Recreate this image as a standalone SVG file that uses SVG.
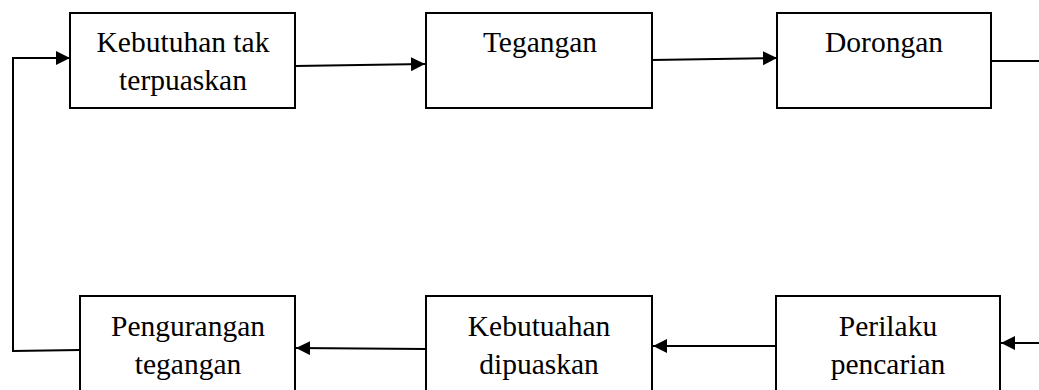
<svg xmlns="http://www.w3.org/2000/svg" width="1039" height="390" viewBox="0 0 1039 390">
  <defs>
    <marker id="arrow" viewBox="0 0 14 14" refX="14" refY="7" markerWidth="14" markerHeight="14" markerUnits="userSpaceOnUse" orient="auto">
      <path d="M0,0 L14,7 L0,14 Z" fill="#000"/>
    </marker>
  </defs>
  <style>
    .box { fill: #fff; stroke: #000; stroke-width: 2; }
    .lbl { font-family: "Liberation Serif", "Times New Roman", serif; font-size: 29.5px; fill: #000; text-anchor: middle; }
    .conn { fill: none; stroke: #000; stroke-width: 2; }
  </style>
  <rect width="1039" height="390" fill="#fff"/>

  <g id="connectors">
    <path class="conn" d="M295,66 L425,64" marker-end="url(#arrow)"/>
    <path class="conn" d="M652,60 L777,58" marker-end="url(#arrow)"/>
    <path class="conn" d="M991,61 L1039,61"/>
    <path class="conn" d="M1039,343 L1001,343" marker-end="url(#arrow)"/>
    <path class="conn" d="M776,346 L653,346" marker-end="url(#arrow)"/>
    <path class="conn" d="M426,349 L296,348" marker-end="url(#arrow)"/>
    <path class="conn" d="M80,350 L13,351 L13,58 L70,58" marker-end="url(#arrow)"/>
  </g>

  <g id="node-kebutuhan-tak-terpuaskan">
    <rect class="box" x="70" y="13" width="225" height="95"/>
    <text class="lbl" x="183" y="52">Kebutuhan tak</text>
    <text class="lbl" x="183" y="90">terpuaskan</text>
  </g>

  <g id="node-tegangan">
    <rect class="box" x="426" y="13" width="226" height="95"/>
    <text class="lbl" x="540" y="52">Tegangan</text>
  </g>

  <g id="node-dorongan">
    <rect class="box" x="777" y="13" width="214" height="95"/>
    <text class="lbl" x="884" y="52">Dorongan</text>
  </g>

  <g id="node-perilaku-pencarian">
    <rect class="box" x="776" y="296" width="224" height="100"/>
    <text class="lbl" x="888" y="336">Perilaku</text>
    <text class="lbl" x="888" y="374">pencarian</text>
  </g>

  <g id="node-kebutuahan-dipuaskan">
    <rect class="box" x="426" y="296" width="226" height="100"/>
    <text class="lbl" x="539" y="336">Kebutuahan</text>
    <text class="lbl" x="539" y="374">dipuaskan</text>
  </g>

  <g id="node-pengurangan-tegangan">
    <rect class="box" x="80" y="296" width="215" height="100"/>
    <text class="lbl" x="188" y="336">Pengurangan</text>
    <text class="lbl" x="188" y="374">tegangan</text>
  </g>
</svg>
